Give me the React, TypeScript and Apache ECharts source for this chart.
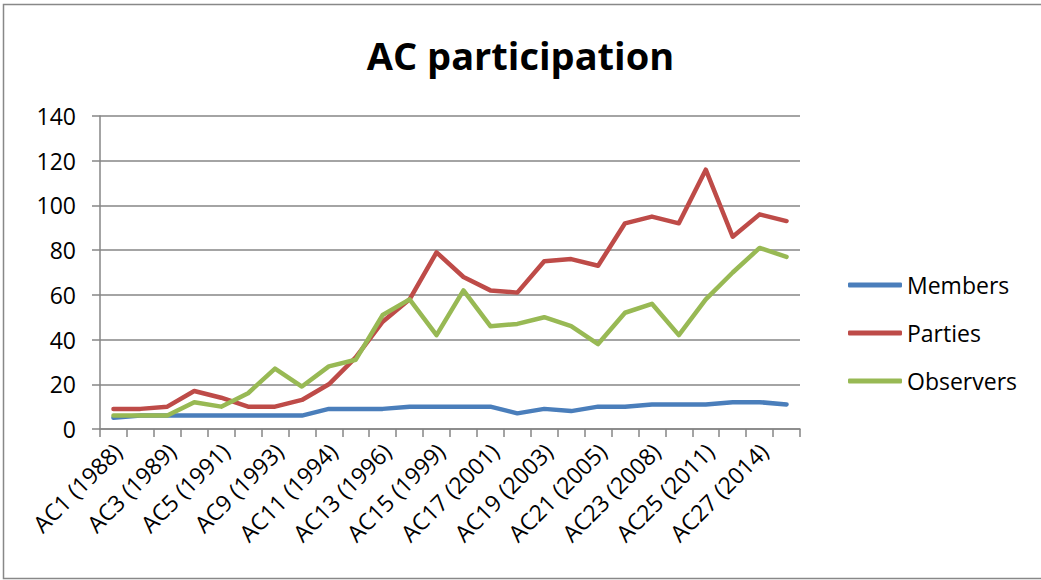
import React, { useEffect, useRef } from "react";
import * as echarts from "echarts";

const categories = [
  "AC1 (1988)", "AC2 (1988)", "AC3 (1989)", "AC4 (1990)", "AC5 (1991)", "AC7 (1992)",
  "AC9 (1993)", "AC10 (1994)", "AC11 (1994)", "AC12 (1995)", "AC13 (1996)", "AC14 (1997)",
  "AC15 (1999)", "AC16 (2000)", "AC17 (2001)", "AC18 (2002)", "AC19 (2003)", "AC20 (2004)",
  "AC21 (2005)", "AC22 (2006)", "AC23 (2008)", "AC24 (2009)", "AC25 (2011)", "AC26 (2012)",
  "AC27 (2014)", "AC28 (2015)",
];
const members = [5, 6, 6, 6, 6, 6, 6, 6, 9, 9, 9, 10, 10, 10, 10, 7, 9, 8, 10, 10, 11, 11, 11, 12, 12, 11];
const parties = [9, 9, 10, 17, 14, 10, 10, 13, 20, 32, 48, 58, 79, 68, 62, 61, 75, 76, 73, 92, 95, 92, 116, 86, 96, 93];
const observers = [6, 6, 6, 12, 10, 16, 27, 19, 28, 31, 51, 58, 42, 62, 46, 47, 50, 46, 38, 52, 56, 42, 58, 70, 81, 77];
const yTicks = { min: 0, max: 140, interval: 20 };

const FONT = "Open Sans";

export default function App() {
  const ref = useRef<HTMLDivElement>(null);
  useEffect(() => {
    document.body.style.margin = "0";
    const chart = echarts.init(ref.current!, null, { renderer: "svg" });
    const line = (name: string, data: number[], color: string) => ({
      name,
      type: "line",
      data,
      xAxisIndex: 0,
      yAxisIndex: 0,
      symbol: "none",
      smooth: false,
      lineStyle: { color, width: 4.5, join: "round", cap: "round" },
      itemStyle: { color },
    });
    chart.setOption({
      animation: false,
      backgroundColor: "#ffffff",
      title: {
        text: "AC participation",
        left: "center",
        top: 36,
        padding: 0,
        textStyle: { fontFamily: FONT, fontWeight: "bold", fontSize: 38, color: "#000" },
      },
      legend: {
        orient: "vertical",
        left: 848,
        top: 273,
        padding: 0,
        itemWidth: 54,
        itemHeight: 5,
        itemGap: 24,
        itemTextGap: 6,
        icon: "roundRect",
        textStyle: { fontFamily: FONT, fontSize: 23, color: "#000", lineHeight: 24 },
        data: ["Members", "Parties", "Observers"],
      },
      grid: [
        { left: 100, right: 241, top: 116, bottom: 151 },
        { left: 104, right: 237, top: 116, bottom: 151 },
      ],
      xAxis: [
        {
          type: "category",
          gridIndex: 0,
          data: categories,
          boundaryGap: true,
          axisLine: { show: true, lineStyle: { color: "#868686", width: 1.5 } },
          axisTick: { show: true, inside: false, length: 8, alignWithLabel: false, interval: 0, lineStyle: { color: "#868686", width: 1.5 } },
          axisLabel: { show: false },
          splitLine: { show: false },
        },
        {
          type: "category",
          gridIndex: 1,
          data: categories,
          boundaryGap: true,
          axisLine: { show: false },
          axisTick: { show: false },
          axisLabel: { show: true, interval: 1, rotate: 45, margin: 18, fontFamily: FONT, fontSize: 23, color: "#000" },
          splitLine: { show: false },
        },
      ],
      yAxis: [
        {
          type: "value",
          gridIndex: 0,
          min: yTicks.min,
          max: yTicks.max,
          interval: yTicks.interval,
          axisLine: { show: true, lineStyle: { color: "#868686", width: 1.5 } },
          axisTick: { show: true, length: 8, lineStyle: { color: "#868686", width: 1.5 } },
          axisLabel: { margin: 24, fontFamily: FONT, fontSize: 23, color: "#000" },
          splitLine: { show: true, lineStyle: { color: "#868686", width: 1.5 } },
        },
        { type: "value", gridIndex: 1, show: false, min: 0, max: 140 },
      ],
      series: [
        line("Members", members, "#4A7EBB"),
        line("Parties", parties, "#BE4B48"),
        line("Observers", observers, "#98B954"),
      ],
      graphic: [
        {
          type: "rect",
          shape: { x: 3.5, y: 4.5, width: 1100, height: 574 },
          style: { fill: "none", stroke: "#888888", lineWidth: 1.5 },
          silent: true,
        },
      ],
    });
    return () => chart.dispose();
  }, []);
  return <div ref={ref} style={{ position: "fixed", left: 0, top: 0, width: 1041, height: 580 }} />;
}
